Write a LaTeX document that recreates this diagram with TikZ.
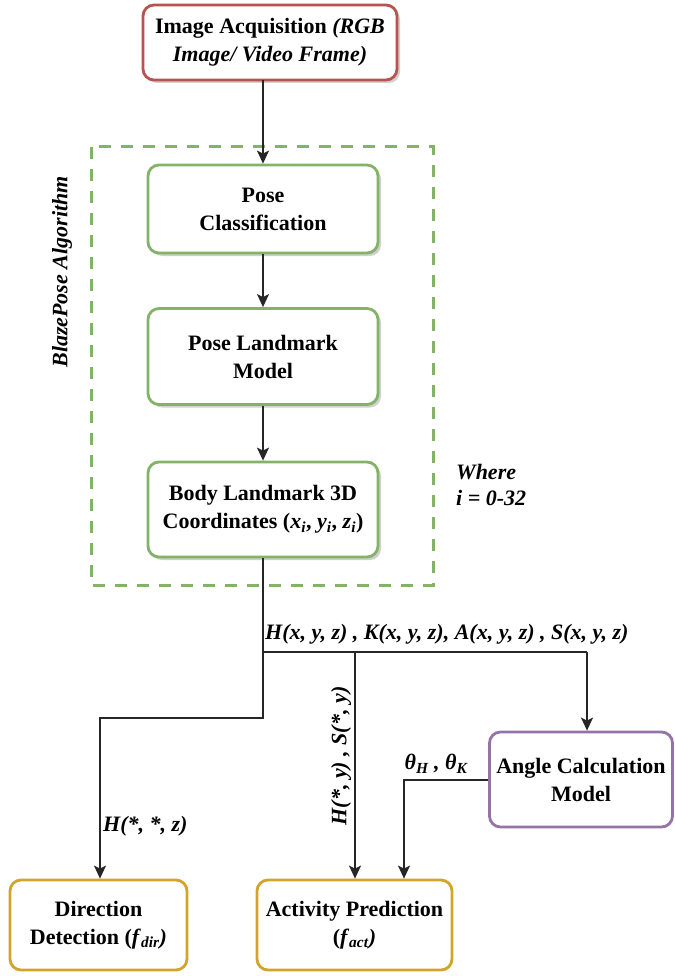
\documentclass[tikz,border=0pt]{standalone}
\usepackage{fontspec}
\setmainfont{Liberation Serif}
\usetikzlibrary{arrows.meta,shadows,positioning}
\definecolor{redb}{HTML}{B85450}
\definecolor{greenb}{HTML}{82B366}
\definecolor{purpb}{HTML}{9673A6}
\definecolor{yelb}{HTML}{D1A52C}
\begin{document}
\begin{tikzpicture}[x=1pt,y=-1pt,
  box/.style={draw, line width=2.8pt, rounded corners=11pt, fill=white, align=center,
    font=\fontsize{22}{28}\selectfont\bfseries, inner sep=1pt,
    drop shadow={shadow xshift=3pt, shadow yshift=-3pt, fill=black!30, opacity=0.6}},
  plainbox/.style={draw, line width=2.8pt, rounded corners=11pt, fill=white, align=center,
    font=\fontsize{22}{28}\selectfont\bfseries, inner sep=1pt},
  arr/.style={-{Stealth[length=13pt,width=12pt,inset=3pt]}, line width=1.6pt, black!85},
  ln/.style={line width=1.6pt, black!85},
  lbl/.style={font=\fontsize{22}{26}\selectfont\bfseries\itshape, inner sep=1pt}]
\useasboundingbox (0,0) rectangle (674,976);
\fill[white] (0,0) rectangle (674,976);

% top box
\node[box, draw=redb, minimum width=254pt, minimum height=75pt] (acq) at (270,42.5)
  {Image Acquisition \textit{(RGB}\\\textit{Image/ Video Frame)}};

% dashed container
\draw[greenb, line width=3pt, dash pattern=on 12pt off 10pt] (91,147) rectangle (433,585);
\node[lbl, rotate=90] (bp) at (62,272) {BlazePose Algorithm};

\node[box, draw=greenb, minimum width=230pt, minimum height=88pt] (pc) at (263,209)
  {Pose\\Classification};
\node[box, draw=greenb, minimum width=230pt, minimum height=96pt] (pl) at (263,356.5)
  {Pose Landmark\\Model};
\node[box, draw=greenb, minimum width=230pt, minimum height=95pt] (bl) at (263,509.5)
  {Body Landmark 3D\\Coordinates (\textit{x}\textsubscript{\textit{i}}, \textit{y}\textsubscript{\textit{i}}, \textit{z}\textsubscript{\textit{i}})};

\node[lbl, align=left, anchor=west] (where) at (455,485) {Where\\\textit{i} = 0-32};

\node[plainbox, draw=purpb, minimum width=183pt, minimum height=95pt] (ang) at (581,779.5)
  {Angle Calculation\\Model};
\node[plainbox, draw=yelb, minimum width=177pt, minimum height=90pt] (dir) at (98.5,925)
  {Direction\\Detection (\textit{f}\textsubscript{\textit{dir}}\textit{)}};
\node[plainbox, draw=yelb, minimum width=195pt, minimum height=90pt] (act) at (354.5,925)
  {Activity Prediction\\(\textit{f}\textsubscript{\textit{act}}\textit{)}};

% connectors
\coordinate (a1) at (263,80);
\draw[arr] (a1) -- (pc.north);
\draw[arr] (pc.south) -- (pl.north);
\draw[arr] (pl.south) -- (bl.north);

\coordinate (j1) at (263,652);
\coordinate (j2) at (263,718);
\coordinate (j3) at (100,718);
\coordinate (j4) at (355,652);
\coordinate (j5) at (587,652);
\coordinate (j6) at (404,780);
\draw[ln] (bl.south) -- (j1) -- (j5);
\draw[arr] (j5) -- (ang.north -| j5);
\draw[arr] (j1) -- (j2) -- (j3) -- (dir.north -| j3);
\draw[arr] (j4) -- (act.north -| j4);
\draw[arr] (ang.west |- j6) -- (j6) -- (act.north -| j6);

% labels
\node[lbl, anchor=south west] (l1) at (264,645) {H(x, y, z) , K(x, y, z), A(x, y, z) , S(x, y, z)};
\node[lbl, anchor=west] (l2) at (102,826) {H(*, *, z)};
\node[lbl, rotate=90] (l3) at (341,756) {H(*, y) , S(*, y)};
\node[lbl] (l4) at (436,764) {θ\textsubscript{\textit{H}} , θ\textsubscript{\textit{K}}};
\end{tikzpicture}
\end{document}
